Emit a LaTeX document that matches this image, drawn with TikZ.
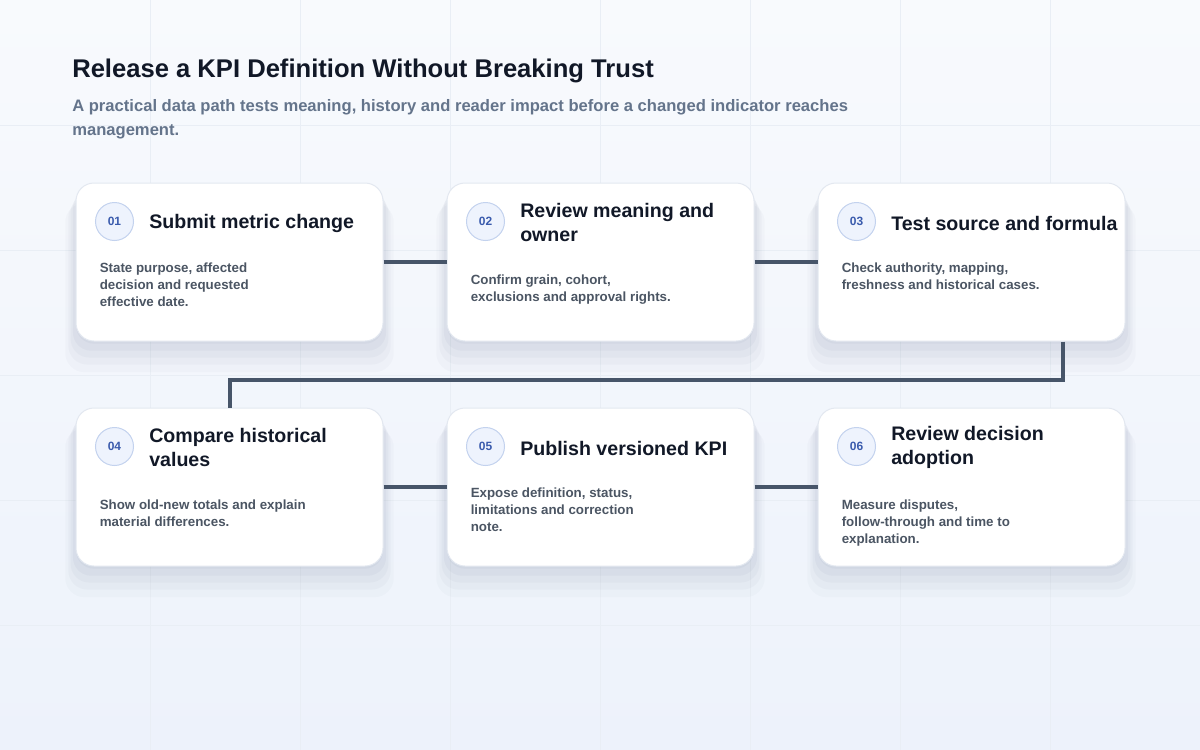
\documentclass[tikz,border=0pt]{standalone}
\usepackage{fontspec}
\setmainfont{Liberation Sans}
\usetikzlibrary{shadows}
\definecolor{bgA}{HTML}{F8FAFD}
\definecolor{bgB}{HTML}{EDF2FB}
\definecolor{gridc}{HTML}{E9EEF5}
\definecolor{cardline}{HTML}{E3E8F0}
\definecolor{shadowc}{HTML}{3A4A70}
\definecolor{badgefill}{HTML}{EEF3FD}
\definecolor{badgeline}{HTML}{C3D2EE}
\definecolor{badgetext}{HTML}{3A5BAD}
\definecolor{ink}{HTML}{111827}
\definecolor{bodyc}{HTML}{4B5563}
\definecolor{subc}{HTML}{64748B}
\definecolor{conn}{HTML}{475569}
\begin{document}
\begin{tikzpicture}[x=0.75pt, y=-0.75pt, node distance=278.25pt]
		% Estilos
		\tikzstyle{card} = [rectangle, draw=cardline, line width=0.75pt, fill=white,
			rounded corners=13.5pt, minimum width=230.25pt, minimum height=118.5pt,
			general shadow={fill=shadowc, opacity=0.025, shadow yshift=-18pt, shadow scale=1.07},
			general shadow={fill=shadowc, opacity=0.03, shadow yshift=-14pt, shadow scale=1.05},
			general shadow={fill=shadowc, opacity=0.035, shadow yshift=-10pt, shadow scale=1.035},
			general shadow={fill=shadowc, opacity=0.04, shadow yshift=-6pt, shadow scale=1.02},
			general shadow={fill=shadowc, opacity=0.04, shadow yshift=-2pt}]
		\tikzstyle{badge} = [circle, draw=badgeline, line width=0.75pt, fill=badgefill,
			minimum size=28.5pt, inner sep=0pt, text=badgetext, font=\bfseries\fontsize{9}{10}\selectfont]
		\tikzstyle{ttl} = [anchor=west, align=left, inner sep=0pt, text=ink, font=\bfseries\fontsize{14.7}{18}\selectfont]
		\tikzstyle{body} = [anchor=north west, align=left, inner sep=0pt, text=bodyc, font=\bfseries\fontsize{10}{12.75}\selectfont]
		\tikzstyle{line} = [draw=conn, line width=3pt]

		% Fondo
		\useasboundingbox (0,0) rectangle (1200,750);
		\shade[top color=bgA, bottom color=bgB] (0,0) rectangle (1200,750);
		\foreach \gx in {150,300,...,1050} \draw[gridc, line width=0.75pt] (\gx,0) -- (\gx,750);
		\foreach \gy in {125,250,...,625} \draw[gridc, line width=0.75pt] (0,\gy) -- (1200,\gy);

		% Encabezado
		\node [anchor=base west, inner sep=0pt, text=ink, font=\bfseries\fontsize{19.2}{23}\selectfont] (title) at (72,77) {Release a KPI Definition Without Breaking Trust};
		\node [anchor=north west, align=left, inner sep=0pt, text=subc, font=\bfseries\fontsize{12.45}{18}\selectfont] (sub) at (72,99) {A practical data path tests meaning, history and reader impact before a changed indicator reaches\\management.};

		% Nodos
		\node [card] (c1) at (229.5,262) {};
		\node [card, right of=c1] (c2) {};
		\node [card, right of=c2] (c3) {};
		\node [card, below of=c1, node distance=168.75pt] (c4) {};
		\node [card, right of=c4] (c5) {};
		\node [card, right of=c5] (c6) {};

		% Conexiones
		\path [line] (c1) -- (c2);
		\path [line] (c2) -- (c3);
		\path [line] ([xshift=68.625pt]c3.south) -- ++(0pt,-28.5pt) -| (c4.north);
		\path [line] (c4) -- (c5);
		\path [line] (c5) -- (c6);

		% Numeros
		\node [badge] (b1) at ([xshift=29.25pt, yshift=-29.25pt]c1.north west) {01};
		\node [badge] (b2) at ([xshift=29.25pt, yshift=-29.25pt]c2.north west) {02};
		\node [badge] (b3) at ([xshift=29.25pt, yshift=-29.25pt]c3.north west) {03};
		\node [badge] (b4) at ([xshift=29.25pt, yshift=-29.25pt]c4.north west) {04};
		\node [badge] (b5) at ([xshift=29.25pt, yshift=-29.25pt]c5.north west) {05};
		\node [badge] (b6) at ([xshift=29.25pt, yshift=-29.25pt]c6.north west) {06};

		% Titulos
		\node [ttl] (t1) at ([xshift=11.25pt, yshift=-1.5pt]b1.east) {Submit metric change};
		\node [ttl] (t2) at ([xshift=11.25pt, yshift=-0.75pt]b2.east) {Review meaning and\\owner};
		\node [ttl] (t3) at ([xshift=11.25pt, yshift=-1.5pt]b3.east) {Test source and formula};
		\node [ttl] (t4) at ([xshift=11.25pt, yshift=-0.75pt]b4.east) {Compare historical\\values};
		\node [ttl] (t5) at ([xshift=11.25pt, yshift=-1.5pt]b5.east) {Publish versioned KPI};
		\node [ttl] (t6) at ([xshift=11.25pt, yshift=-0.75pt]b6.east) {Review decision\\adoption};

		% Textos
		\node [body] (d1) at ([xshift=18pt, yshift=-60pt]c1.north west) {State purpose, affected\\decision and requested\\effective date.};
		\node [body] (d2) at ([xshift=18pt, yshift=-69pt]c2.north west) {Confirm grain, cohort,\\exclusions and approval rights.};
		\node [body] (d3) at ([xshift=18pt, yshift=-60pt]c3.north west) {Check authority, mapping,\\freshness and historical cases.};
		\node [body] (d4) at ([xshift=18pt, yshift=-69pt]c4.north west) {Show old-new totals and explain\\material differences.};
		\node [body] (d5) at ([xshift=18pt, yshift=-60pt]c5.north west) {Expose definition, status,\\limitations and correction\\note.};
		\node [body] (d6) at ([xshift=18pt, yshift=-69pt]c6.north west) {Measure disputes,\\follow-through and time to\\explanation.};
	\end{tikzpicture}
\end{document}
